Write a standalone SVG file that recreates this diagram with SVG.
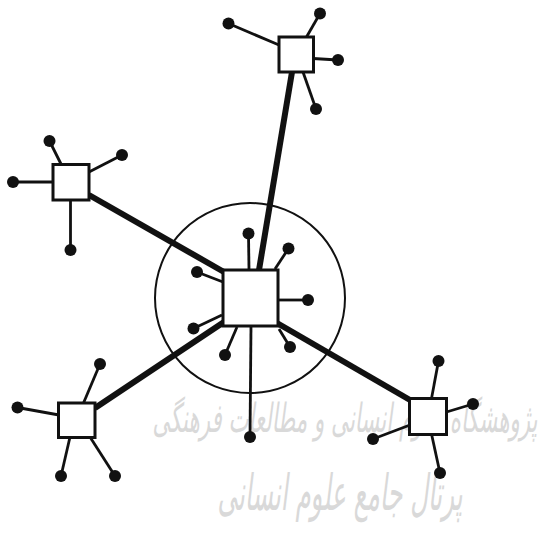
<svg xmlns="http://www.w3.org/2000/svg" width="553" height="541" viewBox="0 0 553 541">
<style>
.wm{font-family:"DejaVu Sans","Noto Sans",sans-serif;fill:#d9d9d9;font-style:italic}
.box{fill:#fff;stroke:#111;stroke-width:3}
.leaf{stroke:#111;stroke-width:2.8;fill:none}
.dot{fill:#111}
.trunk{stroke:#111;stroke-width:6;fill:none}
.ring{fill:none;stroke:#111;stroke-width:2}
</style>
<rect width="553" height="541" fill="#fff"/>
<g id="watermark">
<text class="wm" x="345" y="432" font-size="40" text-anchor="middle" textLength="385" lengthAdjust="spacingAndGlyphs">پژوهشگاه علوم انسانی و مطالعات فرهنگی</text>
<text class="wm" x="340" y="510" font-size="50" text-anchor="middle" textLength="245" lengthAdjust="spacingAndGlyphs">پرتال جامع علوم انسانی</text>
</g>
<g id="connectors">
<circle class="ring" cx="250" cy="298" r="95"/>
<line class="trunk" x1="292" y1="72" x2="259" y2="270"/>
<line class="trunk" x1="89" y1="195" x2="224" y2="272"/>
<line class="trunk" x1="95" y1="408" x2="224" y2="322"/>
<line class="trunk" x1="277" y1="323" x2="410" y2="400"/>
</g>
<g id="center-node">
<line class="leaf" x1="249" y1="270" x2="248.5" y2="233.5"/>
<line class="leaf" x1="275" y1="269" x2="288.5" y2="248.5"/>
<line class="leaf" x1="223" y1="282" x2="197" y2="272"/>
<line class="leaf" x1="278" y1="300" x2="308" y2="300"/>
<line class="leaf" x1="222" y1="315" x2="193.5" y2="328.5"/>
<line class="leaf" x1="237" y1="327" x2="225" y2="355"/>
<line class="leaf" x1="279" y1="329" x2="290" y2="347"/>
<line class="leaf" x1="251" y1="326" x2="250" y2="437"/>
<rect class="box" x="223" y="270" width="55" height="56"/>
<circle class="dot" cx="248.5" cy="233.5" r="6"/>
<circle class="dot" cx="288.5" cy="248.5" r="6"/>
<circle class="dot" cx="197" cy="272" r="6"/>
<circle class="dot" cx="308" cy="300" r="6"/>
<circle class="dot" cx="193.5" cy="328.5" r="6"/>
<circle class="dot" cx="225" cy="355" r="6"/>
<circle class="dot" cx="290" cy="347" r="6"/>
<circle class="dot" cx="250" cy="437" r="6"/>
</g>
<g id="top-node">
<line class="leaf" x1="279" y1="45" x2="228.5" y2="23.5"/>
<line class="leaf" x1="306.5" y1="37" x2="320" y2="13.5"/>
<line class="leaf" x1="313" y1="58.5" x2="338" y2="60"/>
<line class="leaf" x1="303" y1="72" x2="316" y2="109"/>
<rect class="box" x="279" y="37" width="34.5" height="35"/>
<circle class="dot" cx="228.5" cy="23.5" r="6"/>
<circle class="dot" cx="320" cy="13.5" r="6"/>
<circle class="dot" cx="338" cy="60" r="6"/>
<circle class="dot" cx="316" cy="109" r="6"/>
</g>
<g id="left-node">
<line class="leaf" x1="61" y1="164" x2="49.5" y2="141"/>
<line class="leaf" x1="89" y1="172" x2="122" y2="155"/>
<line class="leaf" x1="53" y1="182" x2="13" y2="182"/>
<line class="leaf" x1="70.5" y1="200" x2="70.5" y2="250"/>
<rect class="box" x="53" y="164.5" width="36" height="35.5"/>
<circle class="dot" cx="49.5" cy="141" r="6"/>
<circle class="dot" cx="122" cy="155" r="6"/>
<circle class="dot" cx="13" cy="182" r="6"/>
<circle class="dot" cx="70.5" cy="250" r="6"/>
</g>
<g id="bottom-left-node">
<line class="leaf" x1="83.5" y1="403" x2="100" y2="364"/>
<line class="leaf" x1="59" y1="415" x2="17.5" y2="407.5"/>
<line class="leaf" x1="70" y1="437" x2="61" y2="476"/>
<line class="leaf" x1="90" y1="437" x2="115" y2="476"/>
<rect class="box" x="58.5" y="403" width="36.5" height="34.5"/>
<circle class="dot" cx="100" cy="364" r="6"/>
<circle class="dot" cx="17.5" cy="407.5" r="6"/>
<circle class="dot" cx="61" cy="476" r="6"/>
<circle class="dot" cx="115" cy="476" r="6"/>
</g>
<g id="right-node">
<line class="leaf" x1="431.5" y1="398.5" x2="438.5" y2="361"/>
<line class="leaf" x1="446.5" y1="412" x2="473" y2="404"/>
<line class="leaf" x1="410" y1="425" x2="373" y2="439"/>
<line class="leaf" x1="431.5" y1="434" x2="440" y2="473"/>
<rect class="box" x="409.5" y="398.5" width="37" height="36"/>
<circle class="dot" cx="438.5" cy="361" r="6"/>
<circle class="dot" cx="473" cy="404" r="6"/>
<circle class="dot" cx="373" cy="439" r="6"/>
<circle class="dot" cx="440" cy="473" r="6"/>
</g>
</svg>
